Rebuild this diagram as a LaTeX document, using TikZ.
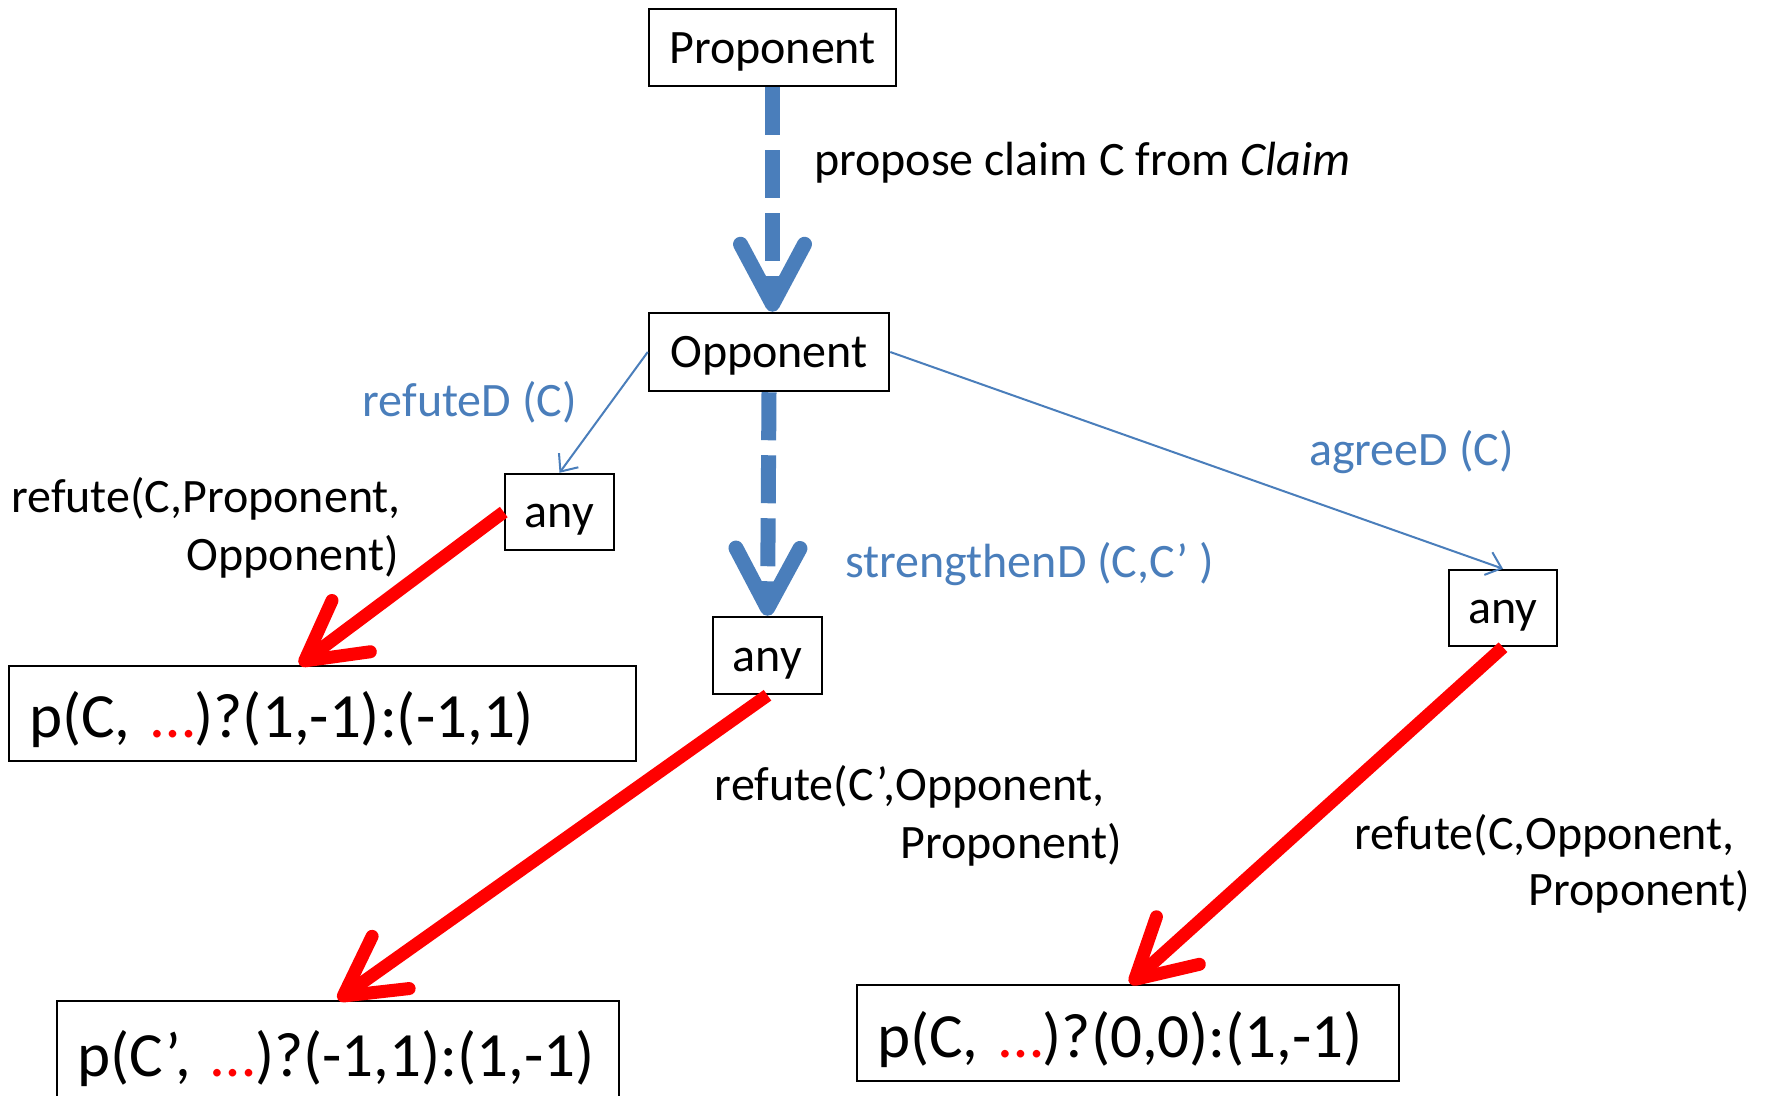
\documentclass[tikz,border=0pt]{standalone}
\usepackage{fontspec}
\setmainfont{Carlito}
\usetikzlibrary{arrows.meta,calc}
\definecolor{moveblue}{HTML}{4A7EBB}
\definecolor{hitred}{HTML}{FF0000}

\begin{document}
\begin{tikzpicture}[x=1pt,y=-1pt,
  txt/.style={inner sep=0pt,font=\fontsize{48}{57}\selectfont},
  bluetxt/.style={txt,text=moveblue},
  box/.style={draw=black,line width=2.5pt,inner sep=0pt,text height=35pt,text depth=4pt,
    font=\fontsize{48}{57}\selectfont},
  payoff/.style={draw=black,line width=2.5pt,inner xsep=20pt,inner ysep=0pt,
    text height=50pt,text depth=2pt,align=left,font=\fontsize{63}{70}\selectfont},
  bigmove/.style={draw=moveblue,line width=15pt,dash pattern=on 48pt off 15pt,
    -{Straight Barb[round,length=60pt,width=64pt]}},
  thinmove/.style={draw=moveblue,line width=2pt,
    -{Straight Barb[length=14pt,width=24pt]}},
  refuteline/.style={draw=hitred,line width=13pt,
    -{Straight Barb[round,length=58pt,width=64pt]}}]
\useasboundingbox (0,0) rectangle (1772,1095);

% players and choice points
\node[box,minimum width=247pt,minimum height=77pt] (prop) at (772.5,47.5) {Proponent};
\node[box,minimum width=240pt,minimum height=78pt] (opp) at (769,352) {Opponent};
\node[box,minimum width=109pt,minimum height=76pt] (anyL) at (559.5,512) {any};
\node[box,minimum width=109pt,minimum height=77pt] (anyM) at (767.5,655.5) {any};
\node[box,minimum width=108pt,minimum height=76pt] (anyR) at (1503,608) {any};

% payoff boxes
\node[payoff,text width=587pt,minimum height=95pt] (p1) at (322.5,713.5)
  {p(C, {\color{hitred}…})?(1,-1):(-1,1)};
\node[payoff,text width=522pt,minimum height=102pt] (p2) at (338,1052)
  {p(C’, {\color{hitred}…})?(-1,1):(1,-1)};
\node[payoff,text width=502pt,minimum height=96pt] (p3) at (1128,1033)
  {p(C, {\color{hitred}…})?(0,0):(1,-1)};

% moves
\draw[bigmove] (prop.south) -- (prop.south |- opp.north);
\draw[bigmove] (opp.south) -- (anyM.north);
\draw[thinmove] (opp.west) -- (anyL.north);
\draw[thinmove] (opp.east) -- (anyR.north);
\draw[refuteline] (anyL.west) -- ([xshift=-23pt]p1.north);
\draw[refuteline] (anyM.south) -- (p2.north);
\draw[refuteline] (anyR.south) -- ([xshift=2pt]p3.north);

% move labels
\node[txt,anchor=mid west] (lprop) at (814,173) {propose claim C from \textit{Claim}};
\node[bluetxt,anchor=mid east] (lrefD) at (577,414) {refuteD (C)};
\node[bluetxt,anchor=mid west] (lstrD) at (845,575) {strengthenD (C,C’ )};
\node[bluetxt,anchor=mid west] (lagrD) at (1309,463) {agreeD (C)};

\node[txt,anchor=mid east] (lL1) at (401,510) {refute(C,Proponent,};
\node[txt,anchor=mid east] (lL2) at (399,568) {Opponent)};
\node[txt,anchor=mid east] (lM1) at (1105,798) {refute(C’,Opponent,};
\node[txt,anchor=mid east] (lM2) at (1122,856) {Proponent)};
\node[txt,anchor=mid east] (lR1) at (1735,847) {refute(C,Opponent,};
\node[txt,anchor=mid east] (lR2) at (1750,903) {Proponent)};
\end{tikzpicture}
\end{document}
